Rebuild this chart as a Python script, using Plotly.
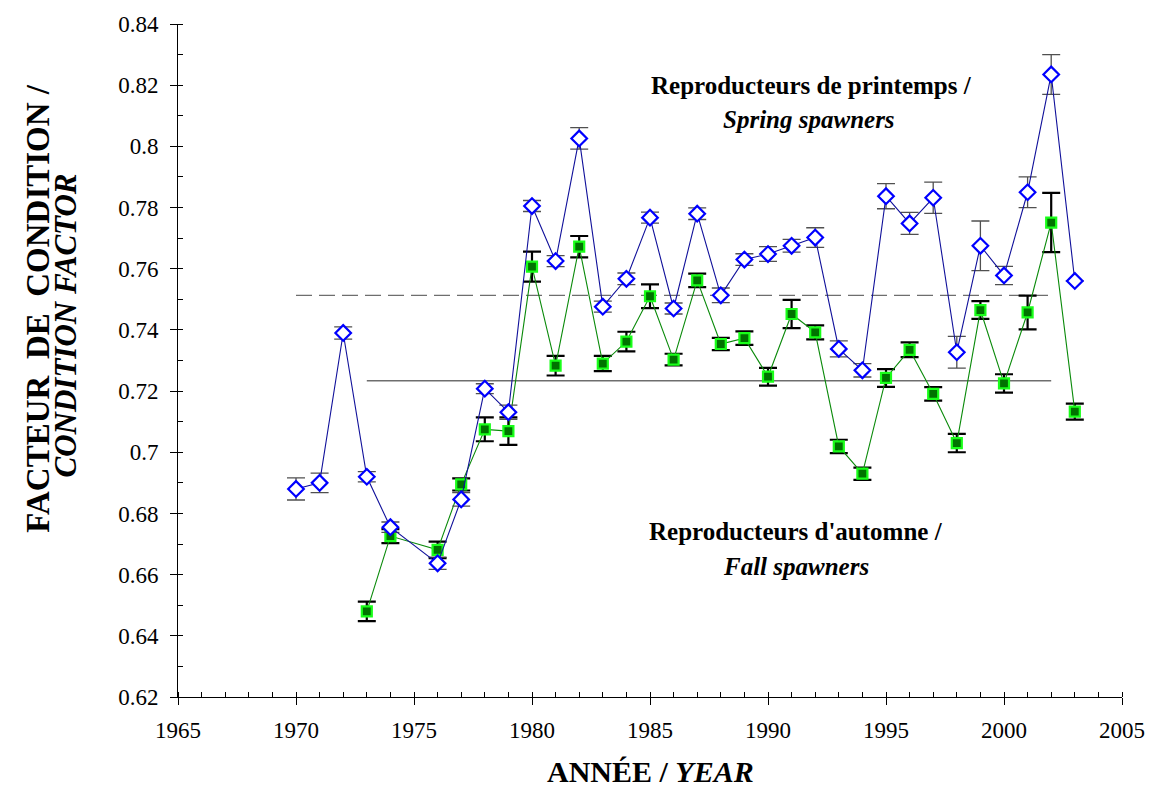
import plotly.graph_objects as go

# Spring spawners (no sample in 1975)
spring_years = [1970, 1971, 1972, 1973, 1974, 1976, 1977, 1978, 1979, 1980,
                1981, 1982, 1983, 1984, 1985, 1986, 1987, 1988, 1989, 1990,
                1991, 1992, 1993, 1994, 1995, 1996, 1997, 1998, 1999, 2000,
                2001, 2002, 2003]
spring_k = [0.688, 0.690, 0.739, 0.692, 0.6755, 0.6637, 0.6846, 0.7208, 0.7131, 0.7805,
            0.7625, 0.8026, 0.7476, 0.7567, 0.7767, 0.7470, 0.7780, 0.7513, 0.7630, 0.7648,
            0.7675, 0.7702, 0.7338, 0.7268, 0.7837, 0.7748, 0.7832, 0.7327, 0.7675, 0.7578,
            0.7850, 0.8235, 0.7560]
spring_err = [0.0036, 0.0032, 0.0020, 0.0017, 0.0017, 0.0020, 0.0022, 0.0016, 0.0023, 0.0018,
              0.0018, 0.0035, 0.0018, 0.0019, 0.0018, 0.0018, 0.0019, 0.0024, 0.0019, 0.0024,
              0.0021, 0.0032, 0.0026, 0.0022, 0.0041, 0.0036, 0.0051, 0.0052, 0.0081, 0.0030,
              0.0050, 0.0065, 0.0]

# Fall spawners
fall_years = [1973, 1974, 1976, 1977, 1978, 1979, 1980, 1981, 1982, 1983,
              1984, 1985, 1986, 1987, 1988, 1989, 1990, 1991, 1992, 1993,
              1994, 1995, 1996, 1997, 1998, 1999, 2000, 2001, 2002, 2003]
fall_k = [0.6480, 0.6726, 0.6681, 0.6895, 0.7075, 0.7069, 0.7607, 0.7283, 0.7672, 0.7290,
          0.7362, 0.7510, 0.7303, 0.7562, 0.7354, 0.7373, 0.7247, 0.7452, 0.7392, 0.7019,
          0.6930, 0.7243, 0.7335, 0.7191, 0.7030, 0.7465, 0.7225, 0.7457, 0.7751, 0.7133]
fall_err = [0.0032, 0.0023, 0.0027, 0.0020, 0.0039, 0.0045, 0.0049, 0.0032, 0.0035, 0.0025,
            0.0032, 0.0039, 0.0019, 0.0022, 0.0020, 0.0022, 0.0029, 0.0046, 0.0023, 0.0022,
            0.0020, 0.0029, 0.0024, 0.0022, 0.0030, 0.0029, 0.0030, 0.0055, 0.0097, 0.0026]

# Long-term means drawn as horizontal reference lines
spring_mean = 0.7513
spring_mean_span = [1970, 2002]
fall_mean = 0.7234
fall_mean_span = [1973, 2002]

y_ticks = [0.62, 0.64, 0.66, 0.68, 0.70, 0.72, 0.74, 0.76, 0.78, 0.80, 0.82, 0.84]
y_tick_text = ["0.62", "0.64", "0.66", "0.68", "0.7", "0.72", "0.74", "0.76", "0.78", "0.8", "0.82", "0.84"]
x_ticks = [1965, 1970, 1975, 1980, 1985, 1990, 1995, 2000, 2005]

SERIF = "Liberation Serif, Times New Roman, serif"

fig = go.Figure()

fig.add_trace(go.Scatter(
    x=spring_mean_span, y=[spring_mean, spring_mean], mode="lines",
    line=dict(color="#6e6e6e", width=1.3, dash="16px,7px"),
    hoverinfo="skip", showlegend=False))
fig.add_trace(go.Scatter(
    x=fall_mean_span, y=[fall_mean, fall_mean], mode="lines",
    line=dict(color="#6e6e6e", width=1.5),
    hoverinfo="skip", showlegend=False))

fig.add_trace(go.Scatter(
    x=fall_years, y=fall_k, mode="lines+markers", name="Fall spawners",
    line=dict(color="#0a8a0a", width=1.1),
    marker=dict(symbol="square", size=10, color="#007300",
                line=dict(color="#19ff19", width=2.2)),
    error_y=dict(type="data", array=fall_err, visible=True,
                 color="#000000", thickness=2.2, width=9),
    showlegend=False))

fig.add_trace(go.Scatter(
    x=spring_years, y=spring_k, mode="lines+markers", name="Spring spawners",
    line=dict(color="#10109a", width=1.1),
    marker=dict(symbol="diamond", size=12, color="#ffffff",
                line=dict(color="#0000ff", width=2.2)),
    error_y=dict(type="data", array=spring_err, visible=True,
                 color="#505050", thickness=1.3, width=9),
    showlegend=False))

axis_common = dict(
    showline=True, linecolor="#000000", linewidth=1, showgrid=False, zeroline=False,
    ticks="outside", ticklen=7, tickwidth=1, tickcolor="#000000",
    tickfont=dict(family=SERIF, size=23, color="#000000"),
)

fig.update_xaxes(
    range=[1965, 2005], tickvals=x_ticks, ticktext=[str(v) for v in x_ticks],
    ticklabelstandoff=5,
    minor=dict(dtick=1, ticks="inside", ticklen=5, tickcolor="#000000", tickwidth=1, showgrid=False),
    **axis_common)
fig.update_yaxes(
    range=[0.62, 0.84], tickvals=y_ticks, ticktext=y_tick_text,
    ticklabelstandoff=7,
    minor=dict(dtick=0.01, ticks="inside", ticklen=5, tickcolor="#000000", tickwidth=1, showgrid=False),
    **axis_common)

label_font = dict(family=SERIF, size=25, color="#000000")

annotations = [
    dict(text="<b>Reproducteurs de printemps /</b>", x=0.671, y=0.908),
    dict(text="<b><i>Spring spawners</i></b>", x=0.668, y=0.858),
    dict(text="<b>Reproducteurs d'automne /</b>", x=0.655, y=0.246),
    dict(text="<b><i>Fall spawners</i></b>", x=0.655, y=0.194),
]
for a in annotations:
    fig.add_annotation(xref="paper", yref="paper", showarrow=False,
                       xanchor="center", yanchor="middle", font=label_font, **a)

# Axis titles
fig.add_annotation(xref="paper", yref="paper", x=0.501, y=0, yshift=-74, borderpad=0,
                   xanchor="center", yanchor="middle", showarrow=False,
                   text="<b>ANNÉE / <i>YEAR</i></b>",
                   font=dict(family=SERIF, size=30, color="#000000"))
fig.add_annotation(xref="paper", yref="paper", x=0, y=0.577, xshift=-140,
                   xanchor="center", yanchor="middle", showarrow=False, textangle=-90,
                   text="<b>FACTEUR&nbsp; DE&nbsp; CONDITION /</b>",
                   font=dict(family=SERIF, size=33, color="#000000"))
fig.add_annotation(xref="paper", yref="paper", x=0, y=0.552, xshift=-112,
                   xanchor="center", yanchor="middle", showarrow=False, textangle=-90,
                   text="<b><i>CONDITION FACTOR</i></b>",
                   font=dict(family=SERIF, size=31, color="#000000"))

fig.update_layout(
    width=1157, height=791,
    margin=dict(l=178, r=25, t=18, b=94),
    plot_bgcolor="#ffffff", paper_bgcolor="#ffffff",
    font=dict(family=SERIF, color="#000000"),
)

fig.write_html("out.html")
